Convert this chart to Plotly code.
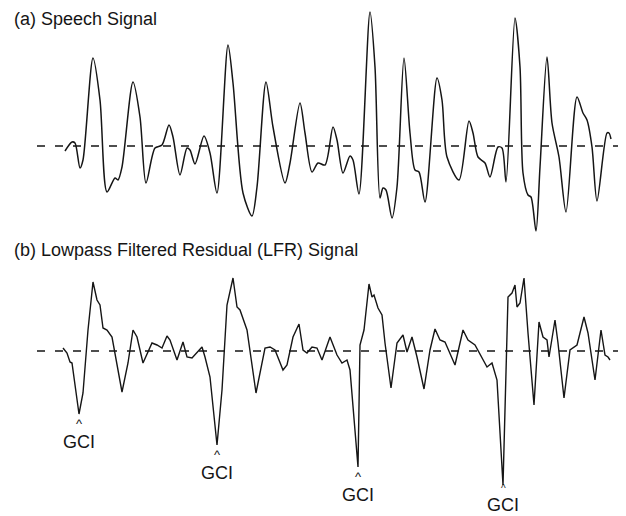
import plotly.graph_objects as go

# (a) Speech signal: sample position and amplitude (relative to zero line)
speech_t = [65, 72, 75, 80, 83, 93, 100, 107, 115, 118, 122, 133, 140, 146, 155, 162, 169, 173, 180, 187,
            190, 195, 204, 210, 217, 228, 233, 243, 252, 257, 266, 273, 285, 290, 300, 305, 312, 318, 325, 333,
            337, 343, 350, 353, 359, 370, 375, 380, 383, 386, 392, 397, 404, 410, 415, 419, 425, 437, 442, 447,
            459, 469, 473, 478, 485, 490, 498, 502, 506, 515, 520, 523, 528, 531, 536, 540, 547, 552, 559, 566,
            577, 583, 587, 592, 597, 607, 609, 611]
speech_v = [-5, 4, 3, -22, -14, 88, 46, -46, -32, -34, -21, 64, 29, -37, -2, 1, 21, 9, -29, -2,
            -4, -18, 10, -7, -47, 101, 63, -47, -70, -41, 64, 19, -37, -17, 43, 13, -26, -17, -19, 19,
            6, -27, -10, -14, -48, 134, 79, -52, -42, -44, -72, -41, 88, 13, -24, -26, -56, 68, 46, -11,
            -34, 25, 13, -11, -17, -31, -1, -2, -36, 128, 79, -27, -49, -51, -85, -21, 89, 23, -11, -66,
            49, 33, 26, -1, -55, 13, 13, 7]

# (b) Lowpass filtered residual signal
lfr_t = [63, 67, 70, 72, 79, 83, 88, 93, 97, 100, 103, 107, 112, 122, 128, 133, 137, 143, 152, 157,
         162, 167, 170, 177, 183, 187, 192, 197, 202, 205, 210, 217, 222, 227, 233, 237, 240, 247, 256, 265,
         270, 275, 278, 283, 287, 293, 299, 303, 307, 312, 317, 322, 330, 337, 342, 347, 350, 358, 360, 364,
         369, 372, 374, 378, 382, 385, 391, 397, 403, 407, 412, 417, 424, 430, 435, 440, 445, 455, 463, 468,
         475, 482, 487, 492, 497, 503, 508, 512, 515, 517, 520, 524, 528, 534, 539, 543, 547, 549, 555, 558,
         564, 570, 577, 584, 588, 595, 601, 605, 608, 610]
lfr_v = [3, -2, -11, -12, -63, -42, 21, 69, 51, 46, 23, 21, 14, -41, -12, 21, 14, -12, 8, 6,
         3, 15, 11, -9, 9, -6, -7, -2, 4, -6, -26, -94, -39, 46, 73, 44, 41, 21, -42, 3,
         4, 1, -6, -19, -14, 14, 27, 1, -2, 4, 3, -9, 14, -4, -12, -9, -19, -116, 6, 21,
         67, 54, 56, 43, 36, 8, -37, 8, 16, -1, 14, -6, -38, 1, 22, 11, 9, -14, 21, 11,
         6, -6, -16, -12, -29, -134, 54, 58, 66, 44, 48, 73, 18, -54, 29, 14, 11, -6, 31, 8,
         -47, 1, 6, 34, 18, -29, 21, -4, -6, -9]

zero_t = [37, 626]
gci_t = [79, 217, 358, 503]
gci_v = [-63, -94, -116, -134]
gci_label = "GCI"

titles = ["(a) Speech Signal", "(b) Lowpass Filtered Residual (LFR) Signal"]

FONT = "Liberation Sans, Arial, Helvetica, sans-serif"
INK = "#151515"

# page places the figure 8px in from the top-left corner
OFF = 8
W, H = 626 - OFF, 516 - OFF
Y2_TOP = 351 - OFF           # y2 value at the top edge of the figure
Y2_BOT = 351 - 516           # y2 value at the bottom edge of the window

fig = go.Figure()
fig.add_trace(go.Scatter(x=zero_t, y=[0, 0], mode="lines", yaxis="y",
                         line=dict(color=INK, width=1.4, dash="8px,10px"), hoverinfo="skip"))
fig.add_trace(go.Scatter(x=speech_t, y=speech_v, mode="lines", yaxis="y",
                         line=dict(color=INK, width=1.5, shape="spline", smoothing=0.8)))
fig.add_trace(go.Scatter(x=zero_t, y=[0, 0], mode="lines", yaxis="y2",
                         line=dict(color=INK, width=1.4, dash="8px,10px"), hoverinfo="skip"))
fig.add_trace(go.Scatter(x=lfr_t, y=lfr_v, mode="lines", yaxis="y2",
                         line=dict(color=INK, width=1.4)))

annotations = [
    dict(text=titles[0], xref="paper", yref="paper", x=(12 - OFF) / W, y=1 - (19 - OFF) / H,
         xanchor="left", yanchor="middle", showarrow=False, font=dict(size=18, color=INK, family=FONT)),
    dict(text=titles[1], xref="paper", yref="paper", x=(12 - OFF) / W, y=1 - (250 - OFF) / H,
         xanchor="left", yanchor="middle", showarrow=False, font=dict(size=18, color=INK, family=FONT)),
]
for t, v in zip(gci_t, gci_v):
    room = v - Y2_BOT            # pixels between the minimum and the bottom edge
    if room >= 39:
        caret_size, caret_shift, label_shift = 13, -9.5, -27.5
    else:                        # compact stack so the label stays inside the picture
        label_shift = -(room - 11)
        caret_size, caret_shift = 10, label_shift + 16.5
    annotations.append(dict(text="^", x=t, y=v, xref="x", yref="y2", xanchor="center", yanchor="middle",
                            yshift=caret_shift, showarrow=False,
                            font=dict(size=caret_size, color=INK, family=FONT)))
    annotations.append(dict(text=gci_label, x=t, y=v, xref="x", yref="y2", xanchor="center",
                            yanchor="middle", yshift=label_shift, showarrow=False,
                            font=dict(size=18, color=INK, family=FONT)))

fig.update_layout(
    width=W, height=H,
    margin=dict(l=0, r=0, t=0, b=0),
    paper_bgcolor="white", plot_bgcolor="white",
    showlegend=False,
    xaxis=dict(range=[OFF, 626], visible=False, fixedrange=True),
    yaxis=dict(range=[146 - 516, 146 - OFF], visible=False, domain=[0, 1]),
    yaxis2=dict(range=[Y2_BOT, Y2_TOP], visible=False, overlaying="y"),
    annotations=annotations,
)

fig.write_html("out.html")
